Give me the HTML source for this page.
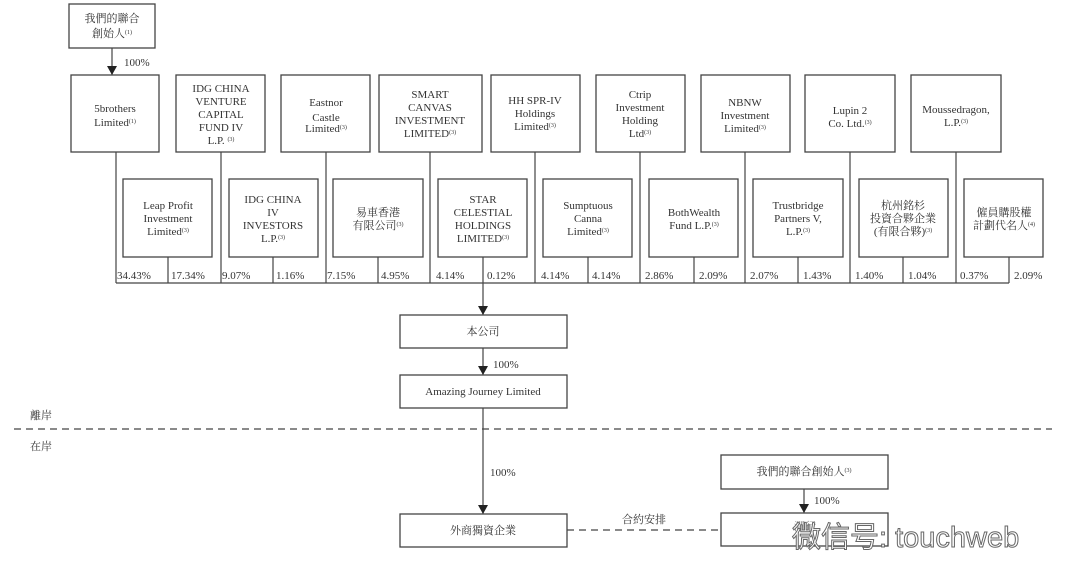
<!DOCTYPE html>
<html><head><meta charset="utf-8"><style>
html,body{margin:0;padding:0;background:#fff;width:1080px;height:583px;overflow:hidden}
svg{display:block}
text{font-family:"Liberation Serif","Noto Serif CJK SC","Noto Sans CJK TC",serif;font-size:11px;fill:#333;text-anchor:middle}
.p{text-anchor:start}
.s{font-size:6px}
rect{fill:#fff;stroke:#444;stroke-width:1.3}
line,path{stroke:#444;stroke-width:1.2;fill:none}
.d{stroke-dasharray:7 5}
</style></head><body>
<svg width="1080" height="583" viewBox="0 0 1080 583">
<defs><marker id="a" markerWidth="10" markerHeight="10" refX="9" refY="5" orient="auto" markerUnits="userSpaceOnUse"><path d="M0,0 L9,5 L0,10 z" style="fill:#222;stroke:none"/></marker></defs>

<!-- founder -->
<rect x="69" y="4" width="86" height="44"/>
<text x="112" y="22">我們的聯合</text>
<text x="112" y="37">創始人<tspan class="s" dy="-3">(1)</tspan></text>
<line x1="112" y1="48" x2="112" y2="75" marker-end="url(#a)"/>
<text class="p" x="124" y="66">100%</text>

<g>
<line x1="116" y1="152" x2="116" y2="283"/>
<line x1="221" y1="152" x2="221" y2="283"/>
<line x1="326" y1="152" x2="326" y2="283"/>
<line x1="430" y1="152" x2="430" y2="283"/>
<line x1="535" y1="152" x2="535" y2="283"/>
<line x1="640" y1="152" x2="640" y2="283"/>
<line x1="745" y1="152" x2="745" y2="283"/>
<line x1="850" y1="152" x2="850" y2="283"/>
<line x1="956" y1="152" x2="956" y2="283"/>
<line x1="168" y1="257" x2="168" y2="283"/>
<line x1="273" y1="257" x2="273" y2="283"/>
<line x1="378" y1="257" x2="378" y2="283"/>
<line x1="588" y1="257" x2="588" y2="283"/>
<line x1="694" y1="257" x2="694" y2="283"/>
<line x1="798" y1="257" x2="798" y2="283"/>
<line x1="903" y1="257" x2="903" y2="283"/>
<line x1="1009" y1="257" x2="1009" y2="283"/>
<line x1="116" y1="283" x2="1009" y2="283"/>
<line x1="483" y1="257" x2="483" y2="315" marker-end="url(#a)"/>
</g>

<rect x="71" y="75" width="88" height="77"/>
<text x="115" y="112">5brothers</text><text x="115" y="126">Limited<tspan class="s" dy="-3">(1)</tspan></text>
<rect x="176" y="75" width="89" height="77"/>
<text x="221" y="92">IDG CHINA</text><text x="221" y="105">VENTURE</text><text x="221" y="118">CAPITAL</text><text x="221" y="131">FUND IV</text><text x="221" y="144">L.P. <tspan class="s" dy="-3">(3)</tspan></text>
<rect x="281" y="75" width="89" height="77"/>
<text x="326" y="106">Eastnor</text><text x="326" y="121">Castle</text><text x="326" y="132">Limited<tspan class="s" dy="-3">(3)</tspan></text>
<rect x="379" y="75" width="103" height="77"/>
<text x="430" y="98">SMART</text><text x="430" y="111">CANVAS</text><text x="430" y="124">INVESTMENT</text><text x="430" y="137">LIMITED<tspan class="s" dy="-3">(3)</tspan></text>
<rect x="491" y="75" width="89" height="77"/>
<text x="535" y="104">HH SPR-IV</text><text x="535" y="117">Holdings</text><text x="535" y="130">Limited<tspan class="s" dy="-3">(3)</tspan></text>
<rect x="596" y="75" width="89" height="77"/>
<text x="640" y="98">Ctrip</text><text x="640" y="111">Investment</text><text x="640" y="124">Holding</text><text x="640" y="137">Ltd<tspan class="s" dy="-3">(3)</tspan></text>
<rect x="701" y="75" width="89" height="77"/>
<text x="745" y="106">NBNW</text><text x="745" y="119">Investment</text><text x="745" y="132">Limited<tspan class="s" dy="-3">(3)</tspan></text>
<rect x="805" y="75" width="90" height="77"/>
<text x="850" y="114">Lupin 2</text><text x="850" y="127">Co. Ltd.<tspan class="s" dy="-3">(3)</tspan></text>
<rect x="911" y="75" width="90" height="77"/>
<text x="956" y="113">Moussedragon,</text><text x="956" y="126">L.P.<tspan class="s" dy="-3">(3)</tspan></text>

<rect x="123" y="179" width="89" height="78"/>
<text x="168" y="209">Leap Profit</text><text x="168" y="222">Investment</text><text x="168" y="235">Limited<tspan class="s" dy="-3">(3)</tspan></text>
<rect x="229" y="179" width="89" height="78"/>
<text x="273" y="203">IDG CHINA</text><text x="273" y="216">IV</text><text x="273" y="229">INVESTORS</text><text x="273" y="242">L.P.<tspan class="s" dy="-3">(3)</tspan></text>
<rect x="333" y="179" width="90" height="78"/>
<text x="378" y="216">易車香港</text><text x="378" y="229">有限公司<tspan class="s" dy="-3">(3)</tspan></text>
<rect x="438" y="179" width="89" height="78"/>
<text x="483" y="203">STAR</text><text x="483" y="216">CELESTIAL</text><text x="483" y="229">HOLDINGS</text><text x="483" y="242">LIMITED<tspan class="s" dy="-3">(3)</tspan></text>
<rect x="543" y="179" width="89" height="78"/>
<text x="588" y="209">Sumptuous</text><text x="588" y="222">Canna</text><text x="588" y="235">Limited<tspan class="s" dy="-3">(3)</tspan></text>
<rect x="649" y="179" width="89" height="78"/>
<text x="694" y="216">BothWealth</text><text x="694" y="229">Fund L.P.<tspan class="s" dy="-3">(3)</tspan></text>
<rect x="753" y="179" width="90" height="78"/>
<text x="798" y="209">Trustbridge</text><text x="798" y="222">Partners V,</text><text x="798" y="235">L.P.<tspan class="s" dy="-3">(3)</tspan></text>
<rect x="859" y="179" width="89" height="78"/>
<text x="903" y="209">杭州銘杉</text><text x="903" y="222">投資合夥企業</text><text x="903" y="235">(有限合夥)<tspan class="s" dy="-3">(3)</tspan></text>
<rect x="964" y="179" width="79" height="78"/>
<text x="1004" y="216">僱員購股權</text><text x="1004" y="229">計劃代名人<tspan class="s" dy="-3">(4)</tspan></text>

<g>
<text class="p" x="117" y="279">34.43%</text><text class="p" x="171" y="279">17.34%</text>
<text class="p" x="222" y="279">9.07%</text><text class="p" x="276" y="279">1.16%</text>
<text class="p" x="327" y="279">7.15%</text><text class="p" x="381" y="279">4.95%</text>
<text class="p" x="436" y="279">4.14%</text><text class="p" x="487" y="279">0.12%</text>
<text class="p" x="541" y="279">4.14%</text><text class="p" x="592" y="279">4.14%</text>
<text class="p" x="645" y="279">2.86%</text><text class="p" x="699" y="279">2.09%</text>
<text class="p" x="750" y="279">2.07%</text><text class="p" x="803" y="279">1.43%</text>
<text class="p" x="855" y="279">1.40%</text><text class="p" x="908" y="279">1.04%</text>
<text class="p" x="960" y="279">0.37%</text><text class="p" x="1014" y="279">2.09%</text>
</g>

<rect x="400" y="315" width="167" height="33"/>
<text x="483" y="335">本公司</text>
<line x1="483" y1="348" x2="483" y2="375" marker-end="url(#a)"/>
<text class="p" x="493" y="368">100%</text>
<rect x="400" y="375" width="167" height="33"/>
<text x="483" y="395">Amazing Journey Limited</text>
<line class="d" x1="14" y1="429" x2="1052" y2="429"/>
<text class="p" x="30" y="419">離岸</text>
<text class="p" x="30" y="450">在岸</text>
<line x1="483" y1="408" x2="483" y2="514" marker-end="url(#a)"/>
<text class="p" x="490" y="476">100%</text>
<rect x="400" y="514" width="167" height="33"/>
<text x="483" y="534">外商獨資企業</text>
<line class="d" x1="567" y1="530" x2="721" y2="530"/>
<text x="644" y="523">合約安排</text>
<rect x="721" y="455" width="167" height="34"/>
<text x="804" y="475">我們的聯合創始人<tspan class="s" dy="-3">(3)</tspan></text>
<line x1="804" y1="489" x2="804" y2="513" marker-end="url(#a)"/>
<text class="p" x="814" y="504">100%</text>
<rect x="721" y="513" width="167" height="33"/>
<text x="805" y="530" style="fill:#888">瀾行</text>
<text class="p" x="792" y="547" style="font-family:'Liberation Sans','Noto Sans CJK SC',sans-serif;font-size:29px;fill:#fff;stroke:#666;stroke-width:1">微信号: touchweb</text>
</svg>
</body></html>
